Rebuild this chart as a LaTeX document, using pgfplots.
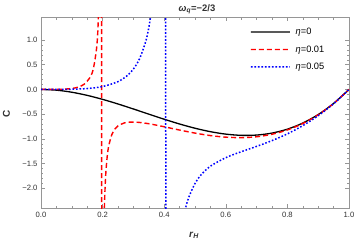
\documentclass[border=0pt]{standalone}
\usepackage{fontspec}
\setmainfont{Liberation Sans}
\usepackage{pgfplots}
\pgfplotsset{compat=1.18}
\definecolor{framegray}{RGB}{150,150,150}
\definecolor{labgray}{RGB}{50,50,50}
\pgfplotsset{
  redsty/.style={draw=red, color=red, line width=1.4bp, dash pattern=on 5bp off 3bp},
  bluesty/.style={draw=blue, color=blue, line width=1.5bp, dash pattern=on 1.6bp off 1.9bp},
}
\begin{document}
\begin{tikzpicture}
\useasboundingbox (0,0) rectangle (357bp,243bp);
\begin{axis}[
  at={(41bp,34.5bp)}, anchor=south west,
  scale only axis, width=308bp, height=191.2bp,
  xmin=0, xmax=1, ymin=-2.41, ymax=1.46,
  axis line style={framegray, line width=0.6bp},
  xtick={0,0.2,0.4,0.6,0.8,1},
  xticklabels={0.0,0.2,0.4,0.6,0.8,1.0},
  ytick={-2,-1.5,-1,-0.5,0,0.5,1},
  yticklabels={−2.0,−1.5,−1.0,−0.5,0.0,0.5,1.0},
  minor x tick num=3, minor y tick num=4,
  tick align=inside, xtick pos=both, ytick pos=both,
  xticklabel pos=lower, yticklabel pos=left,
  major tick length=4bp, minor tick length=2.3bp,
  major tick style={framegray, line width=0.5bp},
  minor tick style={framegray, line width=0.5bp},
  ticklabel style={font=\fontsize{7.7}{8}\selectfont, text=labgray},
  legend style={at={(0.6786,0.955)}, anchor=north west, draw=none, fill=none,
    font=\fontsize{9.3}{10}\selectfont, inner sep=0pt, row sep=5.5bp,
    /tikz/every odd column/.append style={column sep=3bp}},
  legend cell align=left,
  legend image code/.code={\draw[#1] (0bp,0bp) -- (19.5bp,0.05bp) -- (39bp,0bp);},
]
\addplot[black, line width=1.3bp, smooth] coordinates {
(0,0) (0.05,-0.0149) (0.1,-0.0565) (0.15,-0.1202) (0.2,-0.2011) (0.25,-0.2945)
(0.3,-0.3958) (0.35,-0.5003) (0.4,-0.6032) (0.45,-0.6998) (0.5,-0.7854)
(0.55,-0.8553) (0.6,-0.9048) (0.65,-0.9291) (0.7,-0.9236) (0.75,-0.8836)
(0.8,-0.8042) (0.85,-0.6809) (0.9,-0.5089) (0.95,-0.2835) (1,0)};
\addlegendentry{\textit{η}=0}
\addplot[redsty, smooth] coordinates {
(0,0) (0.02,0.0000) (0.04,0.0004) (0.06,0.0022) (0.08,0.0073) (0.10,0.0193)
(0.12,0.0457) (0.14,0.1044) (0.16,0.2515) (0.17,0.4214) (0.18,0.8075)
(0.185,1.2511) (0.19,2.339)};
\addlegendentry{\textit{η}=0.01}
\addplot[redsty, forget plot] coordinates {
(0.1969,3) (0.1971,-3)};
\addplot[redsty, smooth, forget plot] coordinates {
(0.2,-6.446) (0.203,-3.380) (0.206,-2.362) (0.21,-1.739) (0.215,-1.354)
(0.22,-1.140) (0.23,-0.914) (0.24,-0.802) (0.25,-0.738) (0.27,-0.679)
(0.29,-0.661) (0.31,-0.663) (0.33,-0.676) (0.36,-0.705) (0.40,-0.756)
(0.45,-0.822) (0.5,-0.884) (0.55,-0.934) (0.6,-0.966) (0.65,-0.976)
(0.7,-0.958) (0.75,-0.907) (0.8,-0.820) (0.85,-0.690) (0.9,-0.513)
(0.95,-0.285) (1,0)};
\addplot[bluesty, smooth] coordinates {
(0,0) (0.05,0.0003) (0.1,0.0037) (0.15,0.0179) (0.2,0.0581) (0.25,0.1582)
(0.28,0.2801) (0.3,0.4125) (0.32,0.6199) (0.34,0.9715) (0.35,1.2505)
(0.36,1.659) (0.37,2.309)};
\addlegendentry{\textit{η}=0.05}
\addplot[bluesty, forget plot] coordinates {
(0.4049,3) (0.4051,-3)};
\addplot[bluesty, smooth, forget plot] coordinates {
(0.45,-3.080) (0.46,-2.668) (0.47,-2.385) (0.48,-2.180) (0.5,-1.903)
(0.52,-1.726) (0.55,-1.554) (0.6,-1.381) (0.65,-1.261) (0.7,-1.153)
(0.75,-1.036) (0.8,-0.899) (0.85,-0.733) (0.9,-0.532) (0.95,-0.289) (1,0)};
\end{axis}
\node[anchor=base, text=labgray, font=\fontsize{9.5}{10}\selectfont] at (197bp,231.5bp) {\textbf{\textit{ω}\textsubscript{\textit{q}}=−2/3}};
\node[anchor=base, text=labgray, font=\fontsize{10}{11}\selectfont] at (194bp,5.5bp) {\textbf{\textit{r}\textsubscript{\textit{H}}}};
\node[anchor=center, rotate=90, text=labgray, font=\fontsize{10}{11}\selectfont] at (6.5bp,129bp) {\textbf{C}};
\end{tikzpicture}
\end{document}
